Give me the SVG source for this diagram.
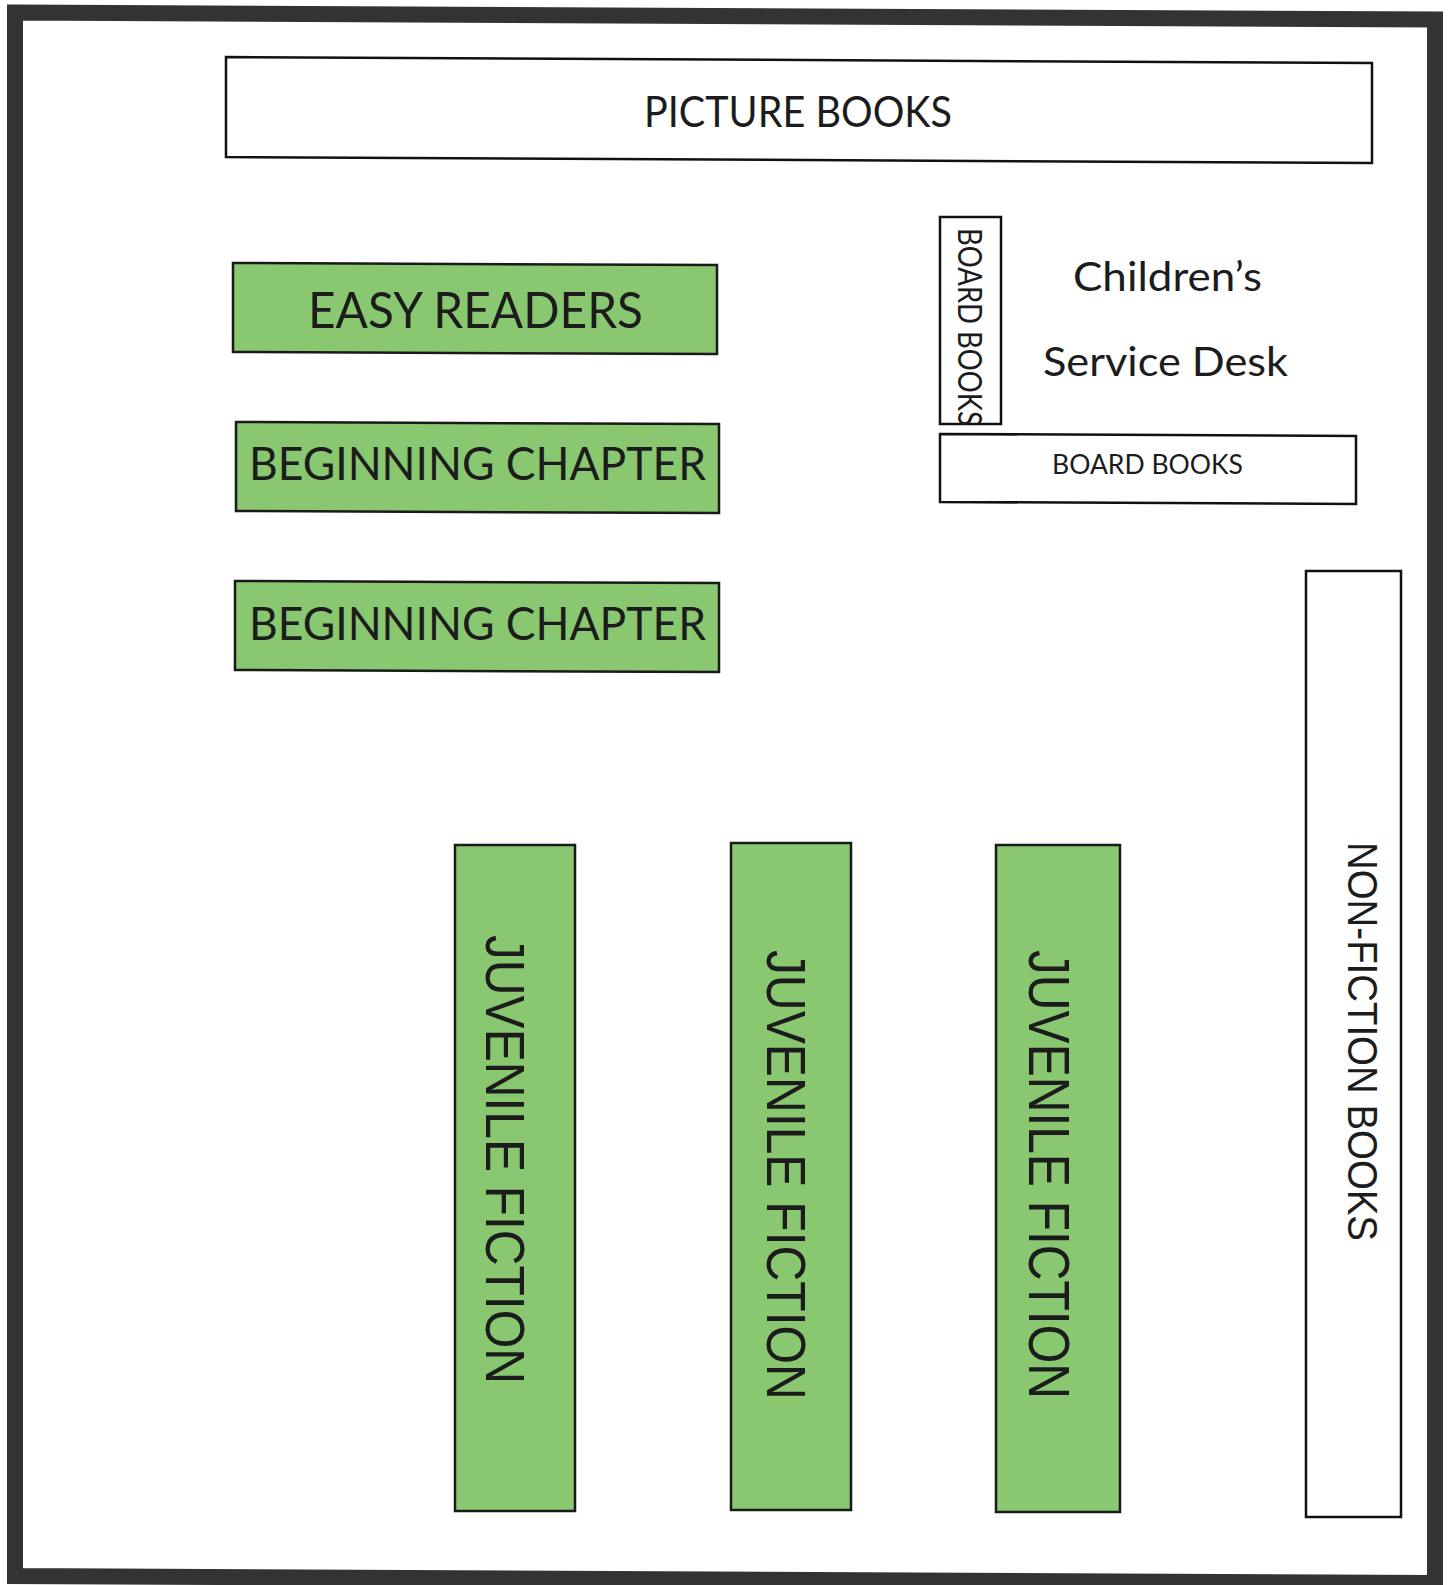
<svg xmlns="http://www.w3.org/2000/svg" width="1452" height="1585" viewBox="0 0 1452 1585">
<style>
.shelf{fill:#ffffff;stroke:#111;stroke-width:2.5}
.green{fill:#89c870;stroke:#1a1a1a;stroke-width:2.5}
.cal{font-family:Lato,"Open Sans","Liberation Sans",sans-serif;fill:#1c1c1c}
.ari{font-family:"Liberation Sans",Arial,sans-serif;fill:#1c1c1c}
</style>
<rect x="0" y="0" width="1452" height="1585" fill="#ffffff"/>
<g id="room">
<polygon points="15,12.5 1435,19.5 1435,1583 15,1576" fill="none" stroke="#333" stroke-width="16"/>
</g>
<g id="picture-books">
<polygon class="shelf" points="226,57 1372,63 1372,163 226,157"/>
<text class="cal" x="644" y="127" font-size="42" textLength="308" lengthAdjust="spacingAndGlyphs">PICTURE BOOKS</text>
</g>
<g id="easy-readers">
<polygon class="green" points="233,263 717,265 717,354 233,352"/>
<text class="cal" x="308" y="328" font-size="50" textLength="335" lengthAdjust="spacingAndGlyphs">EASY READERS</text>
</g>
<g id="beginning-chapter-1">
<polygon class="green" points="236,422 719,424 719,513 236,511"/>
<text class="cal" x="249" y="480" font-size="46" textLength="457" lengthAdjust="spacingAndGlyphs">BEGINNING CHAPTER</text>
</g>
<g id="beginning-chapter-2">
<polygon class="green" points="235,581 719,583 719,672 235,670"/>
<text class="cal" x="249" y="640" font-size="46" textLength="457" lengthAdjust="spacingAndGlyphs">BEGINNING CHAPTER</text>
</g>
<g id="board-books-vertical">
<rect class="shelf" x="940" y="217" width="61" height="207"/>
<text class="cal" transform="translate(958,228) rotate(90)" x="0" y="0" font-size="32" textLength="198" lengthAdjust="spacingAndGlyphs">BOARD BOOKS</text>
</g>
<g id="service-desk">
<text class="cal" x="1073" y="291" font-size="40" textLength="189" lengthAdjust="spacingAndGlyphs">Children’s</text>
<text class="cal" x="1043" y="376" font-size="40" textLength="245" lengthAdjust="spacingAndGlyphs">Service Desk</text>
</g>
<g id="board-books-horizontal">
<polygon class="shelf" points="940,434 1356,436 1356,504 940,502"/>
<text class="cal" x="1052" y="474" font-size="26" textLength="191" lengthAdjust="spacingAndGlyphs">BOARD BOOKS</text>
</g>
<g id="juvenile-fiction-1">
<rect class="green" x="455" y="845" width="120" height="666"/>
<text class="ari" transform="translate(486,935) rotate(90)" x="0" y="0" font-size="56" textLength="449" lengthAdjust="spacingAndGlyphs">JUVENILE FICTION</text>
</g>
<g id="juvenile-fiction-2">
<rect class="green" x="731" y="843" width="120" height="667"/>
<text class="ari" transform="translate(767,950) rotate(90)" x="0" y="0" font-size="56" textLength="450" lengthAdjust="spacingAndGlyphs">JUVENILE FICTION</text>
</g>
<g id="juvenile-fiction-3">
<rect class="green" x="996" y="845" width="124" height="667"/>
<text class="ari" transform="translate(1029,950) rotate(90)" x="0" y="0" font-size="58" textLength="449" lengthAdjust="spacingAndGlyphs">JUVENILE FICTION</text>
</g>
<g id="non-fiction">
<rect class="shelf" x="1306" y="571" width="95" height="946"/>
<text class="ari" transform="translate(1348,842) rotate(90)" x="0" y="0" font-size="42" textLength="399" lengthAdjust="spacingAndGlyphs">NON-FICTION BOOKS</text>
</g>
<g id="connectors"></g>
</svg>
